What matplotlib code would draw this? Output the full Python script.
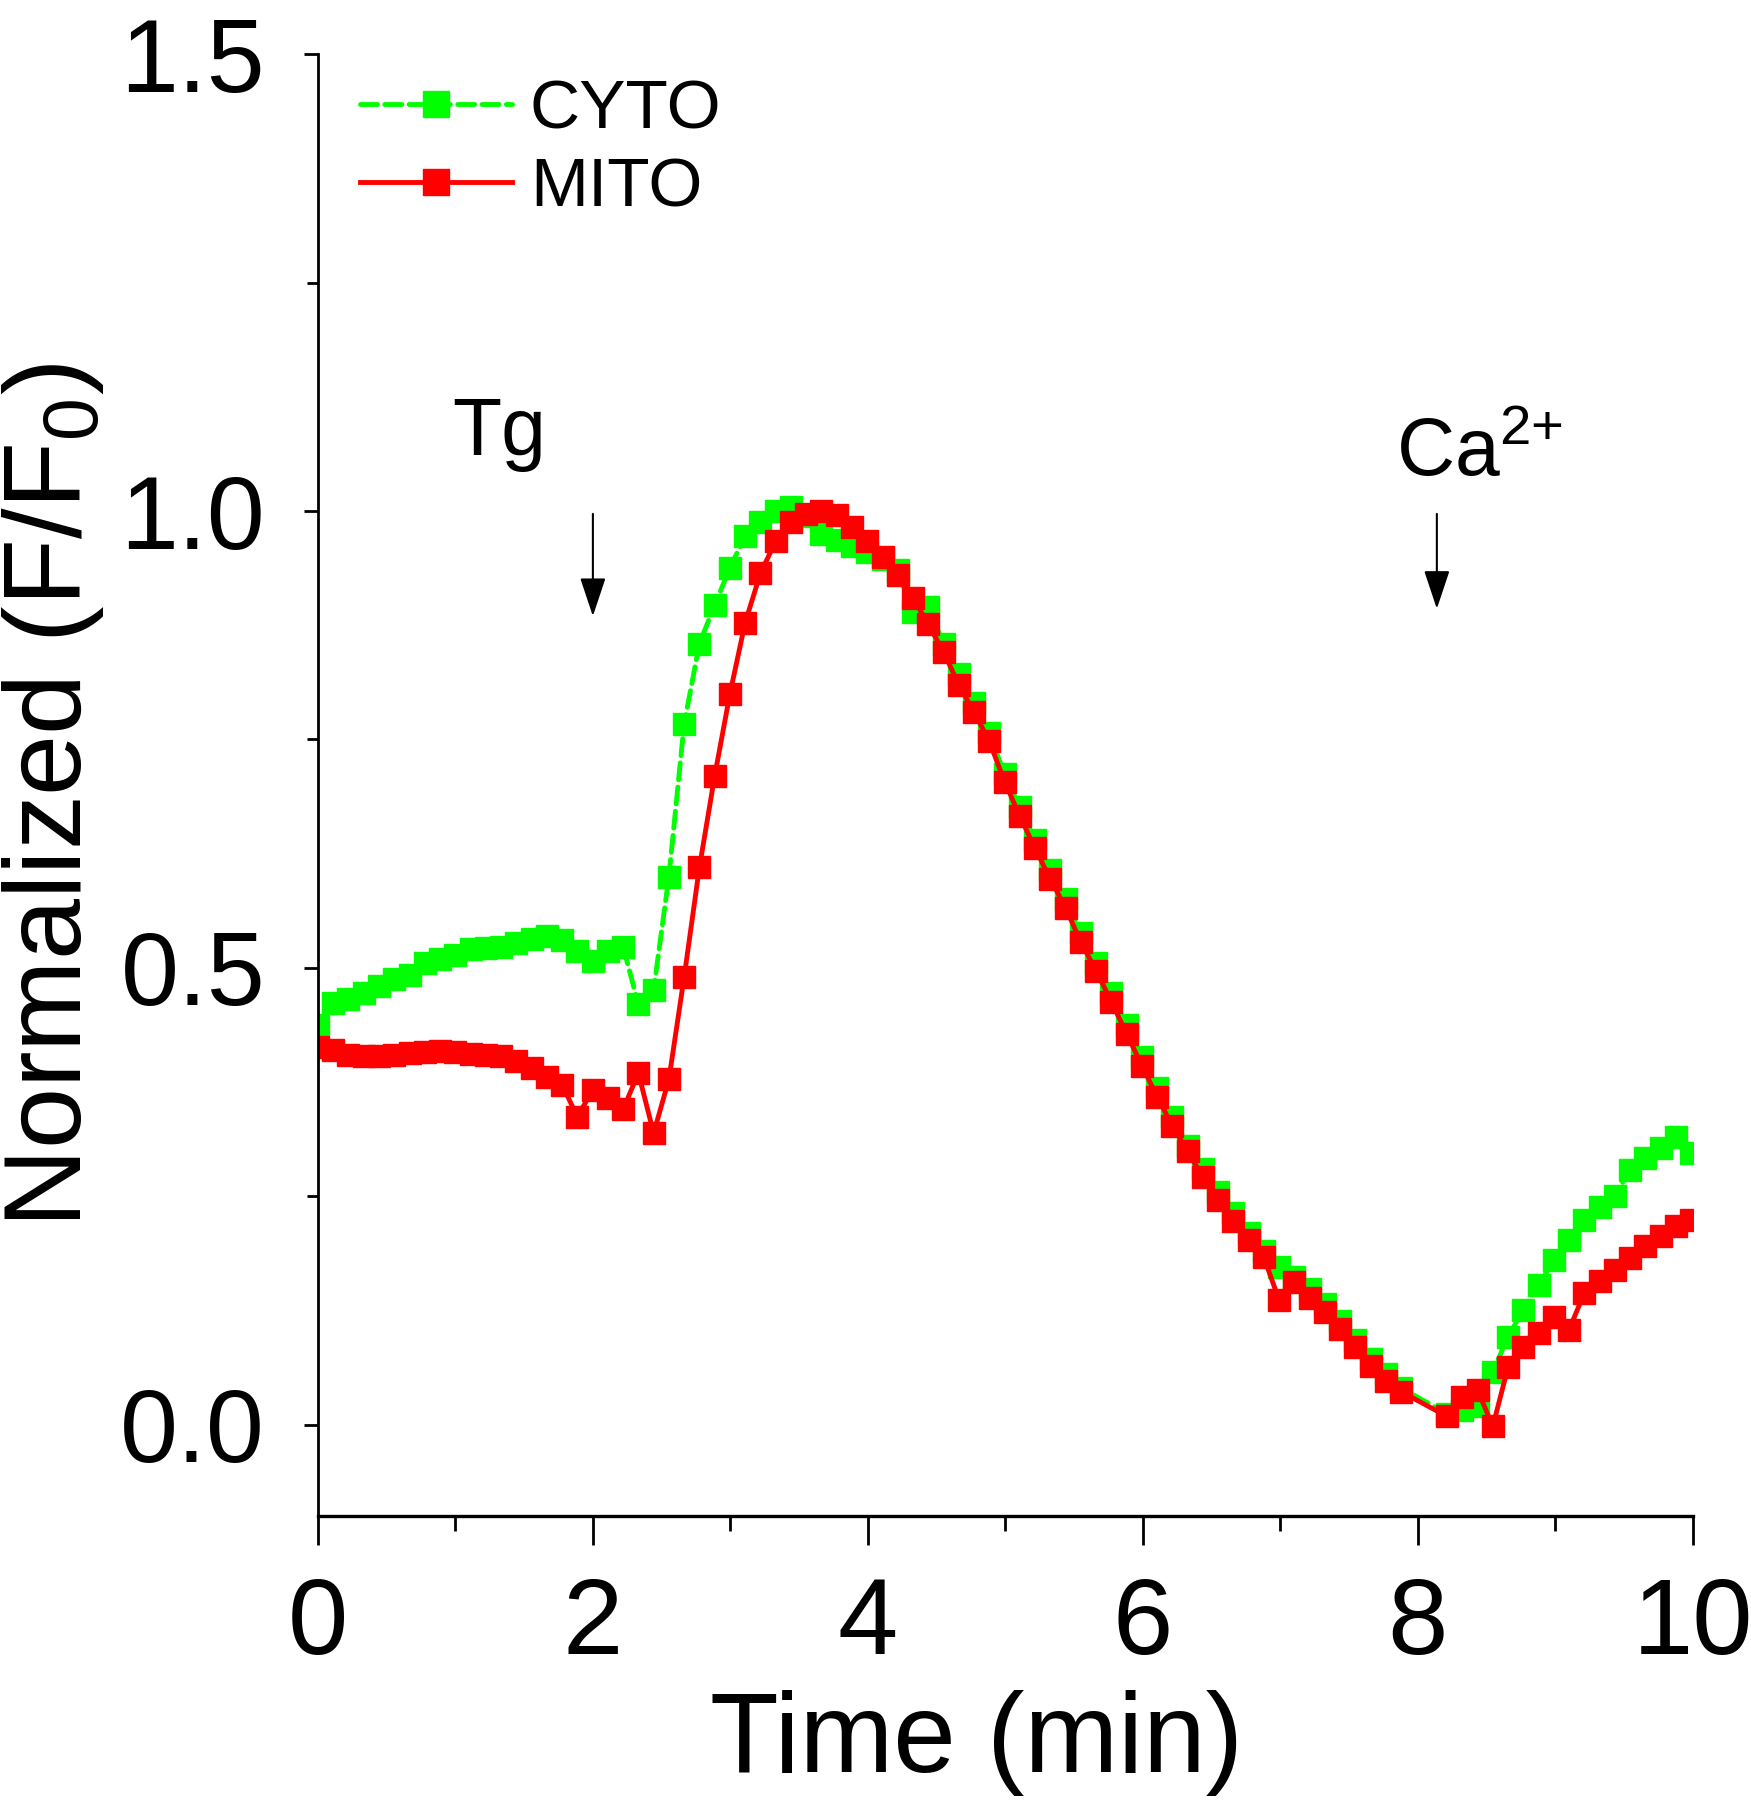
import numpy as np
import matplotlib
matplotlib.use("Agg")
import matplotlib.pyplot as plt

plt.rcParams['font.family'] = ['Liberation Sans', 'DejaVu Sans']
plt.rcParams['mathtext.fontset'] = 'custom'
plt.rcParams['mathtext.rm'] = 'Liberation Sans'
plt.rcParams['mathtext.it'] = 'Liberation Sans:italic'

# time points (min); two samples missing near 8 min
t_min = [0.000, 0.111, 0.222, 0.333, 0.444, 0.555, 0.666, 0.777, 0.888, 0.999,
         1.110, 1.221, 1.332, 1.443, 1.554, 1.665, 1.776, 1.887, 1.998, 2.109,
         2.220, 2.331, 2.442, 2.553, 2.664, 2.775, 2.886, 2.997, 3.108, 3.219,
         3.330, 3.441, 3.552, 3.663, 3.774, 3.885, 3.996, 4.107, 4.218, 4.329,
         4.440, 4.551, 4.662, 4.773, 4.884, 4.995, 5.106, 5.217, 5.328, 5.439,
         5.550, 5.661, 5.772, 5.883, 5.994, 6.105, 6.216, 6.327, 6.438, 6.549,
         6.660, 6.771, 6.882, 6.993, 7.104, 7.215, 7.326, 7.437, 7.548, 7.659,
         7.770, 7.881, 8.214, 8.325, 8.436, 8.547, 8.658, 8.769, 8.880, 8.991,
         9.102, 9.213, 9.324, 9.435, 9.546, 9.657, 9.768, 9.879, 9.990]

cyto = [0.437, 0.461, 0.466, 0.472, 0.480, 0.488, 0.492, 0.505, 0.510, 0.514,
        0.521, 0.522, 0.523, 0.527, 0.532, 0.535, 0.530, 0.518, 0.508, 0.518,
        0.523, 0.460, 0.476, 0.600, 0.767, 0.855, 0.897, 0.938, 0.973, 0.988,
        1.000, 1.005, 0.995, 0.975, 0.968, 0.962, 0.955, 0.948, 0.935, 0.890,
        0.895, 0.855, 0.822, 0.790, 0.757, 0.712, 0.676, 0.640, 0.607, 0.575,
        0.538, 0.505, 0.472, 0.437, 0.402, 0.368, 0.337, 0.305, 0.280, 0.255,
        0.232, 0.210, 0.190, 0.172, 0.162, 0.148, 0.132, 0.113, 0.093, 0.072,
        0.055, 0.040, 0.012, 0.016, 0.020, 0.058, 0.096, 0.126, 0.153, 0.180,
        0.202, 0.224, 0.238, 0.250, 0.279, 0.292, 0.303, 0.315, 0.297]

mito = [0.413, 0.410, 0.405, 0.404, 0.404, 0.405, 0.407, 0.408, 0.409, 0.408,
        0.406, 0.405, 0.403, 0.398, 0.390, 0.380, 0.372, 0.337, 0.366, 0.357,
        0.345, 0.385, 0.319, 0.378, 0.490, 0.610, 0.710, 0.800, 0.878, 0.932,
        0.967, 0.988, 0.997, 1.000, 0.996, 0.983, 0.967, 0.950, 0.930, 0.905,
        0.876, 0.846, 0.810, 0.780, 0.748, 0.704, 0.666, 0.631, 0.597, 0.566,
        0.528, 0.497, 0.463, 0.428, 0.393, 0.359, 0.327, 0.299, 0.271, 0.246,
        0.223, 0.202, 0.183, 0.136, 0.156, 0.139, 0.123, 0.105, 0.085, 0.064,
        0.048, 0.036, 0.009, 0.030, 0.038, -0.002, 0.063, 0.085, 0.100, 0.118,
        0.104, 0.144, 0.157, 0.169, 0.182, 0.195, 0.206, 0.217, 0.224]

fig = plt.figure(figsize=(17.51, 18.0), dpi=100)
ax = fig.add_axes([0.1816, 0.1578, 0.785, 0.812])

ax.plot(t_min, cyto, color='#00ff00', lw=3.5, ls=(0, (3.5, 1.5)), dash_capstyle='round',
        marker='s', ms=16, mec='#00ff00', mfc='#00ff00', label='CYTO')
ax.plot(t_min, mito, color='#ff0000', lw=3.5, marker='s', ms=16,
        mec='#ff0000', mfc='#ff0000', label='MITO')

ax.set_xlim(0, 10)
ax.set_ylim(-0.1, 1.5)
ax.set_xticks([0, 2, 4, 6, 8, 10])
ax.set_xticks([1, 3, 5, 7, 9], minor=True)
ax.set_yticks([0.0, 0.5, 1.0, 1.5])
ax.set_yticks([0.25, 0.75, 1.25], minor=True)
ax.set_yticklabels(['0.0', '0.5', '1.0', '1.5'])

for s in ['top', 'right']:
    ax.spines[s].set_visible(False)
ax.spines['left'].set_linewidth(2.0)
ax.spines['bottom'].set_linewidth(2.4)

ax.tick_params(axis='x', which='major', direction='out', length=21, width=2, pad=22, labelsize=78)
ax.tick_params(axis='x', which='minor', direction='out', length=11, width=2)
ax.tick_params(axis='y', which='major', direction='out', length=10, width=2, pad=28, labelsize=75)
ax.tick_params(axis='y', which='minor', direction='out', length=8, width=2)

ax.set_xlabel('Time (min)', fontsize=81, labelpad=10, x=0.479)
ax.set_ylabel('Normalized (F/F$_0$)', fontsize=79, labelpad=10, y=0.493)

# stimulus markers
ax.annotate('', xy=(2.0, 0.882), xytext=(2.0, 1.0),
            arrowprops=dict(arrowstyle='-|>,head_length=0.6,head_width=0.2',
                            color='black', lw=1.5, mutation_scale=40))
ax.text(1.316, 1.061, 'Tg', ha='center', va='baseline', fontsize=58)
ax.annotate('', xy=(8.14, 0.89), xytext=(8.14, 1.0),
            arrowprops=dict(arrowstyle='-|>,head_length=0.6,head_width=0.2',
                            color='black', lw=1.5, mutation_scale=40))
ax.text(7.84, 1.040, r'Ca$^{2{+}}$', ha='left', va='baseline', fontsize=58)

ax.legend(loc='upper left', bbox_to_anchor=(0.0, 1.012), frameon=False, fontsize=50,
          handlelength=2.2, handletextpad=0.25, labelspacing=0.2, markerscale=1.15,
          borderaxespad=0.2)

fig.savefig('out.png', dpi=100)
